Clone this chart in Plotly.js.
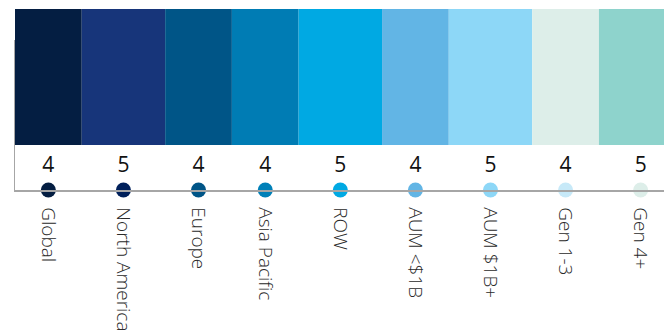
<!DOCTYPE html>
<html>
<head>
<meta charset="utf-8">
<script src="https://cdn.plot.ly/plotly-3.0.1.min.js"></script>
<style>html,body{margin:0;padding:0;background:#fff;}#chart{width:664px;height:330px;}</style>
</head>
<body>
<div id="chart"></div>
<script>
const categories = ["Global", "North America", "Europe", "Asia Pacific", "ROW", "AUM <$1B", "AUM $1B+", "Gen 1-3", "Gen 4+"];
const values = [4, 5, 4, 4, 5, 4, 5, 4, 5];
const barColors = ["#041E42", "#17357A", "#005587", "#007CB4", "#00A9E3", "#62B5E5", "#8DD7F7", "#DDEEE9", "#8ED3CC"];
const dotColors = ["#041E42", "#00205B", "#005587", "#0080B8", "#00A9E3", "#62B5E5", "#8DD7F7", "#C7E9F8", "#DDEEE9"];

// cumulative centers: each category occupies a width proportional to its value
const centers = [];
let acc = 0;
values.forEach(v => { centers.push(acc + v / 2); acc += v; });

const traces = [
  {
    type: 'bar', x: centers, y: values.map(() => 136), base: values.map(() => 45),
    width: values, marker: {color: barColors, line: {width: 0}},
    xaxis: 'x', yaxis: 'y2', hoverinfo: 'skip', showlegend: false
  },
  {
    type: 'scatter', mode: 'markers', x: centers, y: values.map(() => 0),
    marker: {color: dotColors, size: 15, line: {width: 0}},
    cliponaxis: false, xaxis: 'x', yaxis: 'y', hoverinfo: 'skip', showlegend: false
  },
  {
    type: 'scatter', mode: 'text', x: centers, y: values.map(() => 23.5),
    text: values.map(String), textposition: 'middle center',
    textfont: {family: 'Open Sans, sans-serif', size: 21, color: '#111', weight: 400},
    cliponaxis: false, xaxis: 'x', yaxis: 'y', hoverinfo: 'skip', showlegend: false
  }
];

const layout = {
  width: 664, height: 330,
  margin: {l: 15, r: 0, t: 9, b: 140, pad: 0},
  paper_bgcolor: '#ffffff', plot_bgcolor: 'rgba(0,0,0,0)',
  showlegend: false, hovermode: false, barmode: 'overlay',
  xaxis: {
    range: [0, 38.9], showgrid: false, zeroline: false,
    showline: true, linecolor: '#A6A6A6', linewidth: 1.5,
    tickmode: 'array', tickvals: centers, ticktext: categories,
    tickangle: 90, ticks: '', ticklabelstandoff: 12,
    tickfont: {family: 'Open Sans, sans-serif', size: 19, color: '#2a2a2a', weight: 300},
    fixedrange: true
  },
  yaxis: {
    domain: [0, 150 / 181], range: [0, 150], anchor: 'x',
    showgrid: false, zeroline: false, showticklabels: false, ticks: '',
    showline: true, linecolor: '#A6A6A6', linewidth: 1.5, fixedrange: true
  },
  yaxis2: {
    domain: [0, 1], range: [0, 181], anchor: 'x',
    showgrid: false, zeroline: false, showticklabels: false, ticks: '',
    showline: false, fixedrange: true
  }
};

Plotly.newPlot('chart', traces, layout, {displayModeBar: false, staticPlot: true});
</script>
</body>
</html>
